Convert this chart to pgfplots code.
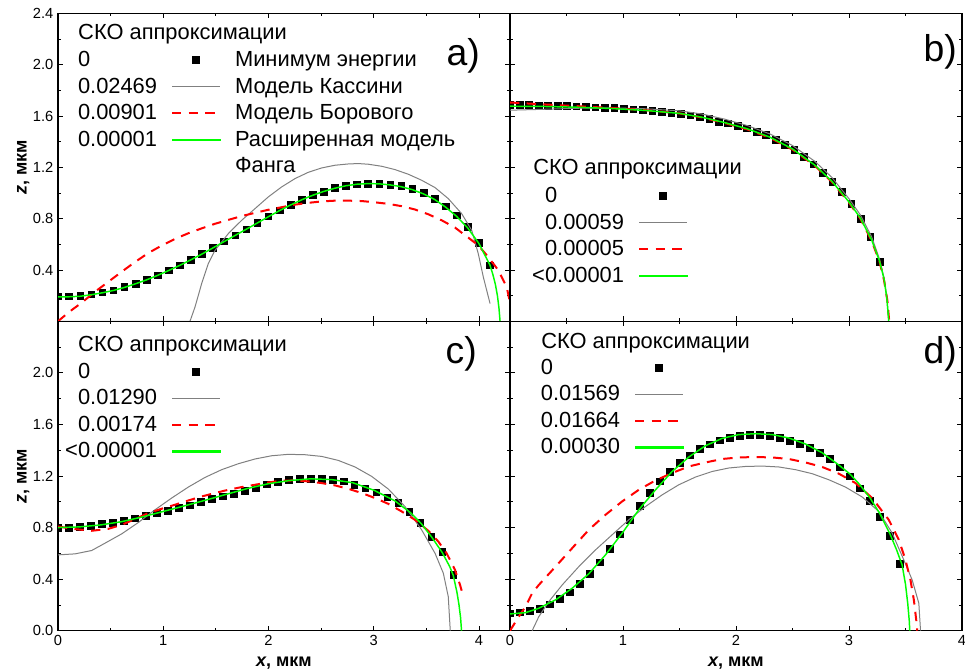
\documentclass[border=0pt]{standalone}
\usepackage{fontspec}
\setmainfont{Liberation Sans}
\usepackage{pgfplots}
\pgfplotsset{compat=1.18}
\definecolor{cgray}{RGB}{128,128,128}
\definecolor{cred}{RGB}{255,0,0}
\definecolor{cgreen}{RGB}{0,255,0}
\newcommand{\legfont}{\fontsize{16.4pt}{20pt}\selectfont}
\pgfplotsset{
  panel/.style={
    scale only axis, width=339pt,
    xmin=0, ymin=0, ymax=2.4,
    clip marker paths=true,
    xtick={0,1,2,3,4}, ytick={0,0.4,0.8,1.2,1.6,2.0,2.4},
    minor x tick num=1, minor y tick num=1,
    tick align=inside, major tick length=3.75pt, minor tick length=2.2pt,
    tick style={black, line width=0.6pt},
    axis line style={black, line width=0.8pt},
    ticklabel style={font=\fontsize{11pt}{13pt}\selectfont},
    every axis y label/.style={at={(axis description cs:-0.0692,0.5)}, rotate=90, anchor=base, font=\fontsize{13.5pt}{16pt}\selectfont\bfseries},
    every axis x label/.style={at={(axis description cs:0.5,-0.1173)}, anchor=base, font=\fontsize{13.5pt}{16pt}\selectfont\bfseries},
    legend columns=2,
    legend cell align=left,
    legend style={draw=none, fill=none, inner sep=0pt, outer sep=0pt, font=\legfont,
      row sep=0pt, column sep=10.5pt,
      nodes={inner sep=0pt, text height=15pt, text depth=4.9pt}},
  },
  sq/.style={only marks, mark=square*, mark size=2.5pt, black},
  gr/.style={cgray, line width=0.75pt, no marks},
  rd/.style={cred, line width=1.5pt, dash pattern=on 7pt off 5.5pt, no marks},
  gn/.style={cgreen, line width=1.1pt, no marks},
  lsq/.style={legend image code/.code={\fill[black] (15.5pt,-2.5pt) rectangle (20.5pt,2.5pt);}},
  lgr/.style={legend image code/.code={\draw[cgray, line width=0.75pt] (0pt,0pt) -- (36pt,0pt);}},
  lrd/.style={legend image code/.code={\draw[cred, line width=1.5pt, dash pattern=on 7pt off 5.5pt] (0pt,0pt) -- (36pt,0pt);}},
  lgn/.style={legend image code/.code={\fill[cgreen] (0pt,-0.55pt) rectangle (36pt,0.55pt);}},
}
\begin{document}
\begin{tikzpicture}
\path[use as bounding box] (0pt,0pt) rectangle (723.75pt,503.25pt);

% ---------------- panel a ----------------
\begin{axis}[panel, at={(43.5pt,262.275pt)}, anchor=south west, height=231pt,
  xmax=4.2945,
  xticklabel=\empty, yticklabels={,0.4,0.8,1.2,1.6,2.0,2.4},
  ylabel={\textit{z}, мкм},
  legend style={at={(axis description cs:0.0133,0.8916)}, anchor=north west}]
\addplot[sq, forget plot] coordinates {(0,0.195) (0.105,0.195) (0.210,0.197) (0.316,0.210) (0.421,0.226) (0.526,0.242) (0.631,0.268) (0.736,0.294) (0.842,0.325) (0.947,0.359) (1.052,0.398) (1.157,0.436) (1.262,0.481) (1.368,0.525) (1.473,0.574) (1.578,0.624) (1.683,0.670) (1.788,0.717) (1.894,0.769) (1.999,0.818) (2.104,0.865) (2.209,0.909) (2.314,0.948) (2.420,0.985) (2.525,1.011) (2.630,1.039) (2.735,1.057) (2.840,1.068) (2.946,1.073) (3.051,1.073) (3.156,1.065) (3.261,1.055) (3.366,1.031) (3.472,1.000) (3.577,0.956) (3.682,0.896) (3.787,0.826) (3.892,0.735) (3.998,0.610) (4.103,0.436)};
\addplot[gr, forget plot] coordinates {(0,0) (1.254,0) (1.302,0.112) (1.365,0.294) (1.428,0.45) (1.492,0.553) (1.618,0.683) (1.745,0.787) (1.872,0.878) (1.998,0.969) (2.125,1.047) (2.252,1.112) (2.378,1.161) (2.505,1.195) (2.632,1.216) (2.758,1.226) (2.853,1.229) (2.948,1.224) (3.075,1.208) (3.202,1.182) (3.328,1.146) (3.455,1.099) (3.582,1.042) (3.708,0.956) (3.835,0.839) (3.931,0.709) (3.993,0.527) (4.041,0.345) (4.105,0.138)};
\addplot[rd, forget plot] coordinates {(0,0) (0.098,0.068) (0.225,0.145) (0.352,0.23) (0.478,0.308) (0.605,0.386) (0.732,0.462) (0.858,0.532) (0.985,0.59) (1.112,0.642) (1.238,0.686) (1.365,0.724) (1.492,0.76) (1.618,0.79) (1.745,0.82) (1.872,0.845) (1.998,0.869) (2.125,0.889) (2.252,0.909) (2.378,0.923) (2.505,0.934) (2.632,0.94) (2.758,0.94) (2.885,0.937) (3.012,0.927) (3.138,0.915) (3.265,0.897) (3.392,0.871) (3.518,0.834) (3.645,0.787) (3.772,0.73) (3.898,0.652) (3.993,0.592) (4.088,0.501) (4.183,0.398) (4.263,0.267) (4.31,0.086)};
\addplot[gn, forget plot] coordinates {(0,0.19) (0.105,0.191) (0.210,0.195) (0.316,0.207) (0.421,0.222) (0.526,0.24) (0.631,0.264) (0.736,0.292) (0.842,0.323) (0.947,0.358) (1.052,0.396) (1.157,0.436) (1.262,0.479) (1.368,0.524) (1.473,0.572) (1.578,0.621) (1.683,0.669) (1.788,0.717) (1.894,0.766) (1.999,0.815) (2.104,0.862) (2.209,0.906) (2.314,0.946) (2.420,0.982) (2.525,1.012) (2.630,1.037) (2.735,1.056) (2.840,1.068) (2.946,1.073) (3.051,1.071) (3.156,1.063) (3.261,1.049) (3.366,1.026) (3.472,0.993) (3.577,0.95) (3.682,0.89) (3.787,0.818) (3.892,0.728) (3.998,0.608) (4.103,0.44) (4.13,0.37) (4.155,0.29) (4.175,0.2) (4.19,0.1) (4.2,0)};
\addlegendimage{empty legend}\addlegendentry{0}
\addlegendimage{lsq}\addlegendentry{Минимум энергии}
\addlegendimage{empty legend}\addlegendentry{0.02469}
\addlegendimage{lgr}\addlegendentry{Модель Кассини}
\addlegendimage{empty legend}\addlegendentry{0.00901}
\addlegendimage{lrd}\addlegendentry{Модель Борового}
\addlegendimage{empty legend}\addlegendentry{0.00001}
\addlegendimage{lgn}\addlegendentry{\begin{tabular}[t]{@{}l@{}}Расширенная модель\\Фанга\end{tabular}}
\node[anchor=base west, font=\legfont, inner sep=0pt] at (axis description cs:0.0442,0.9133) {СКО аппроксимации};
\node[anchor=base east, font=\fontsize{28pt}{32pt}\selectfont, inner sep=0pt] at (axis description cs:0.9336,0.832) {a)};
\end{axis}

% ---------------- panel b ----------------
\begin{axis}[panel, at={(382.5pt,262.275pt)}, anchor=south west, height=231pt,
  xmax=4,
  xticklabel=\empty, yticklabel=\empty,
  legend style={at={(axis description cs:0.0465,0.45)}, anchor=north west}]
\addplot[sq, forget plot] coordinates {(0,1.686) (0.084,1.686) (0.168,1.685) (0.252,1.684) (0.336,1.682) (0.420,1.680) (0.503,1.678) (0.587,1.675) (0.671,1.672) (0.755,1.669) (0.839,1.666) (0.923,1.662) (1.007,1.658) (1.091,1.653) (1.175,1.647) (1.259,1.641) (1.342,1.634) (1.426,1.626) (1.510,1.616) (1.594,1.605) (1.678,1.592) (1.762,1.576) (1.846,1.556) (1.930,1.542) (2.014,1.521) (2.098,1.503) (2.181,1.477) (2.265,1.451) (2.349,1.417) (2.433,1.378) (2.517,1.335) (2.601,1.283) (2.685,1.224) (2.769,1.158) (2.853,1.087) (2.937,1.010) (3.020,0.914) (3.104,0.800) (3.188,0.658) (3.272,0.462)};
\addplot[gr, forget plot] coordinates {(0,1.645) (0.3,1.652) (0.6,1.66) (0.9,1.663) (1.2,1.656) (1.5,1.64) (1.7,1.615) (1.9,1.575) (2.1,1.525) (2.3,1.46) (2.5,1.37) (2.7,1.245) (2.85,1.12) (3.0,0.955) (3.1,0.83) (3.2,0.66) (3.27,0.485) (3.31,0.34) (3.335,0.19) (3.345,0.06)};
\addplot[rd, forget plot] coordinates {(0,1.705) (0.3,1.69) (0.6,1.676) (0.9,1.662) (1.2,1.645) (1.5,1.62) (1.7,1.588) (1.9,1.545) (2.1,1.495) (2.3,1.43) (2.5,1.338) (2.7,1.21) (2.85,1.085) (3.0,0.925) (3.1,0.8) (3.2,0.628) (3.27,0.465) (3.31,0.32) (3.34,0.16) (3.356,0.0)};
\addplot[gn, forget plot] coordinates {(0,1.676) (0.3,1.674) (0.6,1.668) (0.9,1.658) (1.2,1.643) (1.5,1.62) (1.7,1.59) (1.9,1.548) (2.1,1.5) (2.3,1.435) (2.5,1.343) (2.7,1.215) (2.85,1.09) (3.0,0.93) (3.1,0.805) (3.2,0.635) (3.27,0.47) (3.31,0.33) (3.335,0.18) (3.352,0.0)};
\addlegendimage{empty legend}\addlegendentry{0}
\addlegendimage{lsq}\addlegendentry{\mbox{}}
\addlegendimage{empty legend}\addlegendentry{0.00059}
\addlegendimage{lgr}\addlegendentry{\mbox{}}
\addlegendimage{empty legend}\addlegendentry{0.00005}
\addlegendimage{lrd}\addlegendentry{\mbox{}}
\addlegendimage{empty legend}\addlegendentry{\llap{<}0.00001}
\addlegendimage{lgn}\addlegendentry{\mbox{}}
\node[anchor=base west, font=\legfont, inner sep=0pt] at (axis description cs:0.0509,0.475) {СКО аппроксимации};
\node[anchor=base east, font=\fontsize{28pt}{32pt}\selectfont, inner sep=0pt] at (axis description cs:0.989,0.843) {b)};
\end{axis}

% ---------------- panel c ----------------
\begin{axis}[panel, at={(43.5pt,30.225pt)}, anchor=south west, height=232.05pt,
  xmax=4.2945,
  xticklabels={0,1,2,3,4}, yticklabels={0.0,0.4,0.8,1.2,1.6,2.0,},
  xlabel={\textit{x}, мкм}, ylabel={\textit{z}, мкм},
  legend style={at={(axis description cs:0.0133,0.8804)}, anchor=north west}]
\addplot[sq, forget plot] coordinates {(0,0.800) (0.104,0.800) (0.209,0.808) (0.313,0.816) (0.417,0.827) (0.522,0.839) (0.626,0.852) (0.730,0.873) (0.834,0.891) (0.939,0.912) (1.043,0.932) (1.147,0.953) (1.252,0.974) (1.356,0.998) (1.460,1.023) (1.565,1.044) (1.669,1.062) (1.773,1.085) (1.877,1.111) (1.982,1.137) (2.086,1.153) (2.190,1.171) (2.295,1.179) (2.399,1.181) (2.503,1.179) (2.608,1.171) (2.712,1.158) (2.816,1.132) (2.920,1.106) (3.025,1.075) (3.129,1.036) (3.233,0.990) (3.338,0.925) (3.442,0.839) (3.546,0.730) (3.651,0.614) (3.755,0.433)};
\addplot[gr, forget plot] coordinates {(0,0.588) (0.162,0.596) (0.32,0.622) (0.447,0.679) (0.605,0.751) (0.763,0.839) (0.922,0.938) (1.08,1.029) (1.238,1.114) (1.397,1.189) (1.555,1.249) (1.713,1.295) (1.872,1.332) (2.03,1.357) (2.188,1.368) (2.347,1.365) (2.505,1.352) (2.663,1.321) (2.822,1.27) (2.98,1.197) (3.138,1.099) (3.297,0.963) (3.455,0.782) (3.582,0.601) (3.661,0.446) (3.708,0.264) (3.727,0.0)};
\addplot[rd, forget plot] coordinates {(0,0.808) (0.162,0.788) (0.32,0.775) (0.478,0.79) (0.605,0.821) (0.732,0.866) (0.858,0.912) (0.985,0.946) (1.112,0.977) (1.238,1.01) (1.365,1.041) (1.492,1.068) (1.618,1.093) (1.745,1.114) (1.872,1.132) (1.998,1.15) (2.125,1.163) (2.252,1.166) (2.378,1.158) (2.505,1.145) (2.632,1.127) (2.758,1.101) (2.885,1.068) (3.012,1.029) (3.138,0.984) (3.265,0.925) (3.392,0.86) (3.518,0.775) (3.613,0.692) (3.692,0.601) (3.772,0.472) (3.82,0.355) (3.851,0.264)};
\addplot[gn, forget plot] coordinates {(0,0.8) (0.2,0.805) (0.4,0.82) (0.6,0.845) (0.8,0.882) (1.0,0.925) (1.2,0.968) (1.4,1.012) (1.6,1.058) (1.8,1.103) (2.0,1.14) (2.2,1.165) (2.4,1.178) (2.6,1.172) (2.8,1.148) (3.0,1.09) (3.2,1.008) (3.35,0.915) (3.45,0.832) (3.55,0.727) (3.65,0.607) (3.72,0.5) (3.755,0.43) (3.79,0.3) (3.81,0.2) (3.825,0.1) (3.834,0)};
\addlegendimage{empty legend}\addlegendentry{0}
\addlegendimage{lsq}\addlegendentry{\mbox{}}
\addlegendimage{empty legend}\addlegendentry{0.01290}
\addlegendimage{lgr}\addlegendentry{\mbox{}}
\addlegendimage{empty legend}\addlegendentry{0.00174}
\addlegendimage{lrd}\addlegendentry{\mbox{}}
\addlegendimage{empty legend}\addlegendentry{\llap{<}0.00001}
\addlegendimage{lgn}\addlegendentry{\mbox{}}
\node[anchor=base west, font=\legfont, inner sep=0pt] at (axis description cs:0.0442,0.9017) {СКО аппроксимации};
\node[anchor=base east, font=\fontsize{28pt}{32pt}\selectfont, inner sep=0pt] at (axis description cs:0.927,0.864) {c)};
\end{axis}

% ---------------- panel d ----------------
\begin{axis}[panel, at={(382.5pt,30.225pt)}, anchor=south west, height=232.05pt,
  xmax=4,
  xticklabels={0,1,2,3,4}, yticklabel=\empty,
  xlabel={\textit{x}, мкм},
  legend style={at={(axis description cs:0.0376,0.8933)}, anchor=north west}]
\addplot[sq, forget plot] coordinates {(0,0.135) (0.089,0.143) (0.177,0.153) (0.266,0.171) (0.354,0.205) (0.443,0.246) (0.531,0.298) (0.620,0.365) (0.708,0.441) (0.797,0.531) (0.885,0.635) (0.974,0.749) (1.062,0.862) (1.151,0.969) (1.239,1.072) (1.328,1.158) (1.416,1.235) (1.505,1.305) (1.593,1.360) (1.682,1.409) (1.770,1.445) (1.859,1.476) (1.947,1.497) (2.036,1.510) (2.124,1.518) (2.213,1.518) (2.301,1.510) (2.390,1.495) (2.478,1.474) (2.567,1.451) (2.655,1.419) (2.744,1.378) (2.832,1.332) (2.921,1.267) (3.009,1.197) (3.098,1.106) (3.186,1.008) (3.275,0.886) (3.363,0.736) (3.452,0.518)};
\addplot[gr, forget plot] coordinates {(0.196,0) (0.255,0.109) (0.343,0.225) (0.462,0.355) (0.609,0.497) (0.757,0.627) (0.904,0.744) (1.051,0.86) (1.199,0.963) (1.347,1.054) (1.494,1.132) (1.642,1.192) (1.789,1.235) (1.936,1.262) (2.084,1.274) (2.232,1.277) (2.379,1.27) (2.527,1.249) (2.674,1.218) (2.821,1.171) (2.969,1.114) (3.117,1.037) (3.264,0.925) (3.382,0.757) (3.485,0.549) (3.559,0.394) (3.618,0.213) (3.633,0)};
\addplot[rd, forget plot] coordinates {(0,0) (0.078,0.109) (0.137,0.187) (0.196,0.291) (0.255,0.355) (0.403,0.497) (0.55,0.64) (0.697,0.782) (0.845,0.899) (0.993,1.003) (1.14,1.093) (1.288,1.166) (1.435,1.223) (1.582,1.274) (1.73,1.305) (1.878,1.332) (2.025,1.344) (2.173,1.347) (2.32,1.344) (2.467,1.332) (2.615,1.305) (2.763,1.27) (2.91,1.218) (3.058,1.145) (3.205,1.029) (3.352,0.86) (3.441,0.705) (3.5,0.549) (3.544,0.394) (3.574,0.239) (3.595,0.083) (3.604,0)};
\addplot[gn, forget plot] coordinates {(0,0.13) (0.137,0.14) (0.255,0.174) (0.403,0.239) (0.55,0.329) (0.697,0.441) (0.845,0.588) (0.993,0.757) (1.14,0.938) (1.288,1.093) (1.435,1.235) (1.582,1.347) (1.73,1.435) (1.878,1.492) (2.025,1.521) (2.173,1.528) (2.32,1.521) (2.467,1.495) (2.615,1.448) (2.763,1.38) (2.91,1.285) (3.009,1.215) (3.098,1.13) (3.186,1.03) (3.275,0.905) (3.363,0.75) (3.42,0.63) (3.47,0.51) (3.5,0.36) (3.52,0.21) (3.533,0.08) (3.538,0)};
\addlegendimage{empty legend}\addlegendentry{0}
\addlegendimage{lsq}\addlegendentry{\mbox{}}
\addlegendimage{empty legend}\addlegendentry{0.01569}
\addlegendimage{lgr}\addlegendentry{\mbox{}}
\addlegendimage{empty legend}\addlegendentry{0.01664}
\addlegendimage{lrd}\addlegendentry{\mbox{}}
\addlegendimage{empty legend}\addlegendentry{0.00030}
\addlegendimage{lgn}\addlegendentry{\mbox{}}
\node[anchor=base west, font=\legfont, inner sep=0pt] at (axis description cs:0.0686,0.9127) {СКО аппроксимации};
\node[anchor=base east, font=\fontsize{28pt}{32pt}\selectfont, inner sep=0pt] at (axis description cs:0.989,0.864) {d)};
\end{axis}
\end{tikzpicture}
\end{document}
